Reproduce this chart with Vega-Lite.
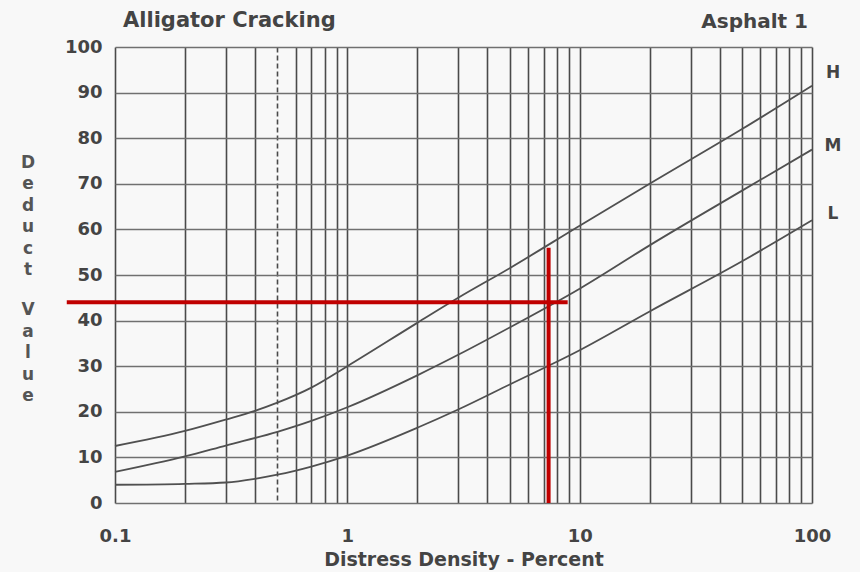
{
  "$schema": "https://vega.github.io/schema/vega-lite/v6.json",
  "width": 697,
  "height": 456,
  "autosize": {"type": "none"},
  "padding": {"left": 115, "top": 47, "right": 48, "bottom": 69},
  "background": "#f8f8f8",
  "config": {"view": {"stroke": null}, "font": "DejaVu Sans"},
  "datasets": {
    "curves": [
      {"series": "H", "x": 0.1, "y": 12.5}, {"series": "H", "x": 0.2, "y": 15.8}, {"series": "H", "x": 0.3, "y": 18.3}, {"series": "H", "x": 0.4, "y": 20.2}, {"series": "H", "x": 0.5, "y": 22}, {"series": "H", "x": 0.7, "y": 25.3}, {"series": "H", "x": 1, "y": 30}, {"series": "H", "x": 2, "y": 39.5}, {"series": "H", "x": 3, "y": 45}, {"series": "H", "x": 5, "y": 51.5}, {"series": "H", "x": 10, "y": 60.8}, {"series": "H", "x": 20, "y": 70}, {"series": "H", "x": 50, "y": 82}, {"series": "H", "x": 100, "y": 91.5},
      {"series": "M", "x": 0.1, "y": 6.8}, {"series": "M", "x": 0.2, "y": 10.2}, {"series": "M", "x": 0.3, "y": 12.6}, {"series": "M", "x": 0.5, "y": 15.6}, {"series": "M", "x": 0.7, "y": 18}, {"series": "M", "x": 1, "y": 21}, {"series": "M", "x": 2, "y": 28}, {"series": "M", "x": 3, "y": 32.5}, {"series": "M", "x": 5, "y": 38.5}, {"series": "M", "x": 10, "y": 47}, {"series": "M", "x": 20, "y": 56.5}, {"series": "M", "x": 50, "y": 68.5}, {"series": "M", "x": 100, "y": 77.5},
      {"series": "L", "x": 0.1, "y": 4}, {"series": "L", "x": 0.2, "y": 4.2}, {"series": "L", "x": 0.3, "y": 4.5}, {"series": "L", "x": 0.4, "y": 5.3}, {"series": "L", "x": 0.5, "y": 6.2}, {"series": "L", "x": 0.7, "y": 8}, {"series": "L", "x": 1, "y": 10.4}, {"series": "L", "x": 2, "y": 16.5}, {"series": "L", "x": 3, "y": 20.5}, {"series": "L", "x": 5, "y": 26}, {"series": "L", "x": 10, "y": 33.5}, {"series": "L", "x": 20, "y": 42}, {"series": "L", "x": 50, "y": 53}, {"series": "L", "x": 100, "y": 62}
    ],
    "redlines": [
      {"x": 0.062, "x2": 8.88, "y": 44, "y2": 44},
      {"x": 7.35, "x2": 7.35, "y": 0, "y2": 56}
    ],
    "curveLabels": [
      {"x": 100, "y": 94.3, "label": "H"},
      {"x": 100, "y": 78.3, "label": "M"},
      {"x": 100, "y": 63.4, "label": "L"}
    ],
    "titles": [
      {"x": 0.1, "y": 100, "label": "Alligator Cracking", "side": "left"},
      {"x": 100, "y": 100, "label": "Asphalt 1", "side": "right"}
    ],
    "ytitle": [
      {"x": 0.1, "y": 74.6, "label": "D\ne\nd\nu\nc\nt"},
      {"x": 0.1, "y": 42.3, "label": "V\na\nl\nu\ne"}
    ]
  },
  "encoding": {
    "x": {
      "field": "x", "type": "quantitative",
      "scale": {"type": "log", "domain": [0.1, 100], "nice": false},
      "axis": {
        "values": [0.1, 0.2, 0.3, 0.4, 0.5, 0.6, 0.7, 0.8, 0.9, 1, 2, 3, 4, 5, 6, 7, 8, 9, 10, 20, 30, 40, 50, 60, 70, 80, 90, 100],
        "labelExpr": "indexof([0.1, 1, 10, 100], datum.value) >= 0 ? format(datum.value, '~g') : ''",
        "grid": true, "ticks": false, "domain": false,
        "gridColor": "#4a4a4a", "gridWidth": 1.6,
        "gridDash": {"condition": {"test": "datum.value == 0.5", "value": [5, 3]}, "value": []},
        "labelFont": "DejaVu Sans", "labelFontSize": 18, "labelFontWeight": "bold", "labelColor": "#444",
        "labelPadding": 24, "labelFlush": false, "labelOverlap": false,
        "title": "Distress Density - Percent", "titleFont": "DejaVu Sans", "titleFontSize": 19, "titleFontWeight": "bold", "titleColor": "#444", "titlePadding": 5
      }
    },
    "y": {
      "field": "y", "type": "quantitative",
      "scale": {"domain": [0, 100], "nice": false, "zero": false},
      "axis": {
        "values": [0, 10, 20, 30, 40, 50, 60, 70, 80, 90, 100],
        "grid": true, "ticks": false, "domain": false,
        "gridColor": "#707070", "gridWidth": 1.3,
        "labelFont": "DejaVu Sans", "labelFontSize": 18, "labelFontWeight": "bold", "labelColor": "#444",
        "labelPadding": 13,
        "title": null
      }
    }
  },
  "layer": [
    {
      "data": {"name": "curves"},
      "mark": {"type": "line", "color": "#505050", "strokeWidth": 1.8, "interpolate": "monotone"},
      "encoding": {"detail": {"field": "series", "type": "nominal"}}
    },
    {
      "data": {"name": "redlines"},
      "mark": {"type": "rule", "color": "#c00000", "strokeWidth": 4},
      "encoding": {"x2": {"field": "x2"}, "y2": {"field": "y2"}}
    },
    {
      "data": {"name": "curveLabels"},
      "mark": {"type": "text", "dx": 21, "fontSize": 17, "fontWeight": "bold", "color": "#444", "align": "center", "baseline": "middle", "font": "DejaVu Sans"},
      "encoding": {"text": {"field": "label", "type": "nominal"}}
    },
    {
      "data": {"name": "titles"},
      "transform": [{"filter": "datum.side == 'left'"}],
      "mark": {"type": "text", "dx": 8, "dy": -26, "fontSize": 21, "fontWeight": "bold", "color": "#444", "align": "left", "baseline": "middle", "font": "DejaVu Sans"},
      "encoding": {"text": {"field": "label", "type": "nominal"}}
    },
    {
      "data": {"name": "titles"},
      "transform": [{"filter": "datum.side == 'right'"}],
      "mark": {"type": "text", "dx": -4, "dy": -25, "fontSize": 20, "fontWeight": "bold", "color": "#444", "align": "right", "baseline": "middle", "font": "DejaVu Sans"},
      "encoding": {"text": {"field": "label", "type": "nominal"}}
    },
    {
      "data": {"name": "ytitle"},
      "mark": {"type": "text", "dx": -87, "fontSize": 17, "fontWeight": "bold", "color": "#555", "align": "center", "baseline": "middle", "lineHeight": 21.5, "lineBreak": "\n", "font": "DejaVu Sans"},
      "encoding": {"text": {"field": "label", "type": "nominal"}}
    }
  ]
}
